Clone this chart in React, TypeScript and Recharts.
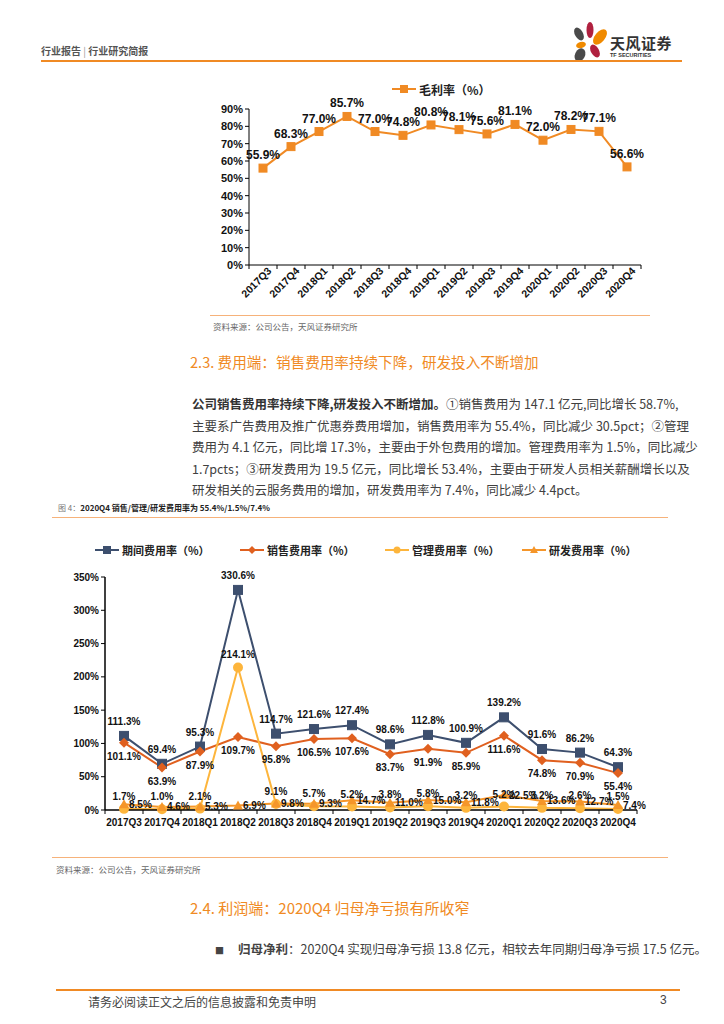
import React from 'react';
import { LabelList, Line, LineChart, XAxis, YAxis } from 'recharts';

const quarters = [
  '2017Q3', '2017Q4', '2018Q1', '2018Q2', '2018Q3', '2018Q4', '2019Q1',
  '2019Q2', '2019Q3', '2019Q4', '2020Q1', '2020Q2', '2020Q3', '2020Q4',
];
const grossMargin = [55.9, 68.3, 77.0, 85.7, 77.0, 74.8, 80.8, 78.1, 75.6, 81.1, 72.0, 78.2, 77.1, 56.6];
const periodRate = [111.3, 69.4, 95.3, 330.6, 114.7, 121.6, 127.4, 98.6, 112.8, 100.9, 139.2, 91.6, 86.2, 64.3];
const salesRate = [101.1, 63.9, 87.9, 109.7, 95.8, 106.5, 107.6, 83.7, 91.9, 85.9, 111.6, 74.8, 70.9, 55.4];
const adminRate = [1.7, 1.0, 2.1, 214.1, 9.1, 5.7, 5.2, 3.8, 5.8, 3.2, 5.2, 3.2, 2.6, 1.5];
const rdRate = [8.5, 4.6, 5.3, 6.9, 9.8, 9.3, 14.7, 11.0, 15.0, 11.8, 22.5, 13.6, 12.7, 7.4];
const marginTicks = [0, 10, 20, 30, 40, 50, 60, 70, 80, 90];
const expenseTicks = [0, 50, 100, 150, 200, 250, 300, 350];

const ORANGE = '#F08A24';
const NAVY = '#3D4F6E';
const RED = '#E0601F';
const YELLOW = '#FDB53C';
const AMBER = '#F5962A';
const CJK = '"Noto Sans CJK SC", "Noto Sans", sans-serif';
const NUM = '"Liberation Sans", Arial, sans-serif';

const marginData = quarters.map((q, i) => ({ q, v: grossMargin[i] }));
const expenseData = quarters.map((q, i) => ({
  q,
  period: periodRate[i],
  sales: salesRate[i],
  admin: adminRate[i],
  rd: rdRate[i],
}));

const pct = (v: any) => `${Number(v).toFixed(1)}%`;

// x 轴刻度：标签 + 分类之间的小刻度线
function BandTick(props: any) {
  const { x, y, payload, band, rotate, last, size } = props;
  return (
    <g transform={`translate(${x},${y})`}>
      <line x1={-band / 2} y1={-6} x2={-band / 2} y2={-2} stroke="#000" />
      {last && <line x1={band / 2} y1={-6} x2={band / 2} y2={-2} stroke="#000" />}
      {rotate ? (
        <text
          x={0}
          y={0}
          dx={6}
          dy={7}
          textAnchor="end"
          transform="rotate(-45)"
          fontFamily={NUM}
          fontWeight="bold"
          fontSize={size}
          fill="#111"
        >
          {payload.value}
        </text>
      ) : (
        <text x={0} y={0} dy={10} textAnchor="middle" fontFamily={NUM} fontWeight="bold" fontSize={size} fill="#111">
          {payload.value}
        </text>
      )}
    </g>
  );
}

const squareDot = (color: string, s: number) => (p: any) =>
  <rect key={p.index} x={p.cx - s / 2} y={p.cy - s / 2} width={s} height={s} fill={color} stroke={color} />;
const diamondDot = (color: string, s: number) => (p: any) =>
  <polygon
    key={p.index}
    points={`${p.cx},${p.cy - s} ${p.cx + s},${p.cy} ${p.cx},${p.cy + s} ${p.cx - s},${p.cy}`}
    fill={color}
  />;
const triangleDot = (color: string, s: number) => (p: any) =>
  <polygon
    key={p.index}
    points={`${p.cx},${p.cy - s} ${p.cx + s},${p.cy + s * 0.8} ${p.cx - s},${p.cy + s * 0.8}`}
    fill={color}
  />;

function LegendItem({ color, marker, label }: { color: string; marker: string; label: string }) {
  return (
    <span style={{ display: 'inline-flex', alignItems: 'center', whiteSpace: 'nowrap' }}>
      <svg width={24} height={10} style={{ marginRight: 3 }}>
        <line x1={0} y1={5} x2={24} y2={5} stroke={color} strokeWidth={2} />
        {marker === 'square' && <rect x={8} y={1} width={8} height={8} fill={color} />}
        {marker === 'diamond' && <polygon points="12,1 16,5 12,9 8,5" fill={color} />}
        {marker === 'circle' && <circle cx={12} cy={5} r={3.5} fill={color} />}
        {marker === 'triangle' && <polygon points="12,1 16,8 8,8" fill={color} />}
      </svg>
      {label}
    </span>
  );
}

function Logo() {
  return (
    <svg width={40} height={44} viewBox="0 0 40 44">
      <ellipse cx={10} cy={14} rx={4} ry={7} fill="#4A4A4A" transform="rotate(-30 10 14)" />
      <ellipse cx={21} cy={10} rx={3.5} ry={8} fill="#B0203F" />
      <ellipse cx={31} cy={17} rx={5} ry={9} fill="#F08A00" transform="rotate(40 31 17)" />
      <ellipse cx={12} cy={25} rx={5} ry={3} fill="#F08A00" transform="rotate(-15 12 25)" />
      <ellipse cx={26} cy={31} rx={4} ry={7} fill="#B0203F" transform="rotate(-30 26 31)" />
      <ellipse cx={11} cy={35} rx={5} ry={7} fill="#4A4A4A" transform="rotate(25 11 35)" />
    </svg>
  );
}

const orangeRule = (left: number, top: number, width: number, color = '#F6B27A') => (
  <div style={{ position: 'absolute', left, top, width, height: 1, background: color }} />
);

const bodyText: React.CSSProperties = {
  fontFamily: CJK,
  fontSize: 12.5,
  color: '#404040',
  textAlign: 'justify',
  textAlignLast: 'justify',
  whiteSpace: 'nowrap',
  height: 21.5,
  lineHeight: '21.5px',
};

const labelStyle = { fill: '#111', fontSize: 10, fontWeight: 'bold', fontFamily: NUM };

export default function App() {
  return (
    <div
      style={{
        position: 'absolute',
        left: 0,
        top: 0,
        width: 724,
        height: 1024,
        background: '#fff',
        fontFamily: CJK,
        overflow: 'hidden',
      }}
    >
      {/* 页眉 */}
      <div style={{ position: 'absolute', left: 41, top: 43, fontSize: 10, color: '#555', fontWeight: 'bold' }}>
        行业报告 <span style={{ color: '#999', fontWeight: 'normal' }}>|</span> 行业研究简报
      </div>
      <div style={{ position: 'absolute', left: 569, top: 20 }}>
        <Logo />
      </div>
      <div style={{ position: 'absolute', left: 610, top: 32, fontSize: 15, color: '#333', fontWeight: 'bold', letterSpacing: 0.5 }}>
        天风证券
      </div>
      <div style={{ position: 'absolute', left: 610, top: 52, fontSize: 5.5, color: '#333', fontFamily: NUM, fontWeight: 'bold' }}>
        TF SECURITIES
      </div>
      <div style={{ position: 'absolute', left: 41, top: 60, width: 641, height: 2, background: ORANGE }} />

      {/* 图：毛利率 */}
      <div style={{ position: 'absolute', left: 392, top: 80, fontSize: 12, color: '#222', fontWeight: 'bold' }}>
        <LegendItem color={ORANGE} marker="square" label="毛利率（%）" />
      </div>
      <div style={{ position: 'absolute', left: 200, top: 70 }}>
        <LineChart width={470} height={240} data={marginData} margin={{ top: 39, right: 29, bottom: 0, left: 4 }}>
          <XAxis
            dataKey="q"
            axisLine={{ stroke: '#000' }}
            tickLine={false}
            tickSize={4}
            tickMargin={2}
            interval={0}
            height={45}
            padding={{ left: 14, right: 14 }}
            tick={(p: any) => <BandTick {...p} band={28} size={10.5} rotate last={p.index === quarters.length - 1} />}
          />
          <YAxis
            domain={[0, 90]}
            ticks={marginTicks}
            interval={0}
            width={45}
            axisLine={{ stroke: '#000' }}
            tickLine={{ stroke: '#000' }}
            tickSize={4}
            tickFormatter={(v) => `${v}%`}
            tick={{ fill: '#111', fontSize: 11, fontWeight: 'bold', fontFamily: NUM }}
          />
          <Line dataKey="v" stroke={ORANGE} strokeWidth={2} dot={squareDot(ORANGE, 8)} isAnimationActive={false}>
            <LabelList
              dataKey="v"
              position="top"
              offset={9}
              formatter={pct}
              style={{ fill: '#111', fontSize: 12, fontWeight: 'bold', fontFamily: NUM }}
            />
          </Line>
        </LineChart>
      </div>
      {orangeRule(210, 315, 440)}
      <div style={{ position: 'absolute', left: 213, top: 320, fontSize: 8.5, color: '#666' }}>
        资料来源：公司公告，天风证券研究所
      </div>

      {/* 2.3 */}
      <div style={{ position: 'absolute', left: 190, top: 351, fontSize: 14.6, color: ORANGE }}>
        2.3. 费用端：销售费用率持续下降，研发投入不断增加
      </div>
      <div style={{ position: 'absolute', left: 192, top: 393, width: 474 }}>
        <div style={bodyText}>
          <b style={{ color: '#333' }}>公司销售费用率持续下降,研发投入不断增加。</b>①销售费用为 147.1 亿元,同比增长 58.7%,
        </div>
        <div style={bodyText}>主要系广告费用及推广优惠券费用增加，销售费用率为 55.4%，同比减少 30.5pct；②管理</div>
        <div style={bodyText}>费用为 4.1 亿元，同比增 17.3%，主要由于外包费用的增加。管理费用率为 1.5%，同比减少</div>
        <div style={bodyText}>1.7pcts；③研发费用为 19.5 亿元，同比增长 53.4%，主要由于研发人员相关薪酬增长以及</div>
        <div style={{ ...bodyText, textAlignLast: 'left' }}>研发相关的云服务费用的增加，研发费用率为 7.4%，同比减少 4.4pct。</div>
      </div>

      {/* 图 4 */}
      <div style={{ position: 'absolute', left: 58, top: 502, fontSize: 8, color: '#222', whiteSpace: 'nowrap' }}>
        <span style={{ color: '#777' }}>图 4：</span>
        <b>2020Q4 销售/管理/研发费用率为 55.4%/1.5%/7.4%</b>
      </div>
      {orangeRule(52, 517, 616)}
      <div style={{ position: 'absolute', left: 0, top: 542, fontSize: 11, fontWeight: 'bold', color: '#222' }}>
        <div style={{ position: 'absolute', left: 95 }}>
          <LegendItem color={NAVY} marker="square" label="期间费用率（%）" />
        </div>
        <div style={{ position: 'absolute', left: 240 }}>
          <LegendItem color={RED} marker="diamond" label="销售费用率（%）" />
        </div>
        <div style={{ position: 'absolute', left: 385 }}>
          <LegendItem color={YELLOW} marker="circle" label="管理费用率（%）" />
        </div>
        <div style={{ position: 'absolute', left: 522 }}>
          <LegendItem color={AMBER} marker="triangle" label="研发费用率（%）" />
        </div>
      </div>
      <div style={{ position: 'absolute', left: 50, top: 565 }}>
        <LineChart width={620} height={273} data={expenseData} margin={{ top: 12, right: 33, bottom: 0, left: 5 }}>
          <XAxis
            dataKey="q"
            axisLine={{ stroke: '#000', strokeWidth: 1.5 }}
            tickLine={false}
            tickSize={4}
            tickMargin={2}
            interval={0}
            height={28}
            padding={{ left: 19, right: 19 }}
            tick={(p: any) => <BandTick {...p} band={38} size={10} last={p.index === quarters.length - 1} />}
          />
          <YAxis
            domain={[0, 350]}
            ticks={expenseTicks}
            interval={0}
            width={50}
            axisLine={{ stroke: '#000', strokeWidth: 1.5 }}
            tickLine={{ stroke: '#000' }}
            tickSize={4}
            tickFormatter={(v) => `${v}%`}
            tick={{ fill: '#111', fontSize: 10, fontWeight: 'bold', fontFamily: NUM }}
          />
          <Line dataKey="period" stroke={NAVY} strokeWidth={2} dot={squareDot(NAVY, 9)} isAnimationActive={false}>
            <LabelList dataKey="period" position="top" offset={11} formatter={pct} style={labelStyle} />
          </Line>
          <Line dataKey="sales" stroke={RED} strokeWidth={2} dot={diamondDot(RED, 5)} isAnimationActive={false}>
            <LabelList dataKey="sales" position="bottom" offset={10} formatter={pct} style={labelStyle} />
          </Line>
          <Line
            dataKey="admin"
            stroke={YELLOW}
            strokeWidth={2}
            dot={{ r: 4, fill: YELLOW, stroke: YELLOW }}
            isAnimationActive={false}
          >
            <LabelList dataKey="admin" position="top" offset={9} formatter={pct} style={labelStyle} />
          </Line>
          <Line dataKey="rd" stroke={AMBER} strokeWidth={2} dot={triangleDot(AMBER, 5)} isAnimationActive={false}>
            <LabelList dataKey="rd" position="right" offset={5} formatter={pct} style={labelStyle} />
          </Line>
        </LineChart>
      </div>
      {orangeRule(52, 857, 616)}
      <div style={{ position: 'absolute', left: 56, top: 863, fontSize: 8.5, color: '#666' }}>
        资料来源：公司公告，天风证券研究所
      </div>

      {/* 2.4 */}
      <div style={{ position: 'absolute', left: 190, top: 897, fontSize: 15, color: ORANGE }}>
        2.4. 利润端：2020Q4 归母净亏损有所收窄
      </div>
      <div style={{ position: 'absolute', left: 215, top: 939, fontSize: 12.5, color: '#404040', whiteSpace: 'nowrap' }}>
        <span style={{ fontSize: 9, color: '#444', marginRight: 14 }}>■</span>
        <b style={{ color: '#444' }}>归母净利</b>：2020Q4 实现归母净亏损 13.8 亿元，相较去年同期归母净亏损 17.5 亿元。
      </div>

      {/* 页脚 */}
      <div style={{ position: 'absolute', left: 56, top: 989, width: 624, height: 2, background: ORANGE }} />
      <div style={{ position: 'absolute', left: 88, top: 993, fontSize: 12, color: '#444' }}>
        请务必阅读正文之后的信息披露和免责申明
      </div>
      <div style={{ position: 'absolute', left: 660, top: 993, fontSize: 12, color: '#444', fontFamily: NUM }}>3</div>
    </div>
  );
}
